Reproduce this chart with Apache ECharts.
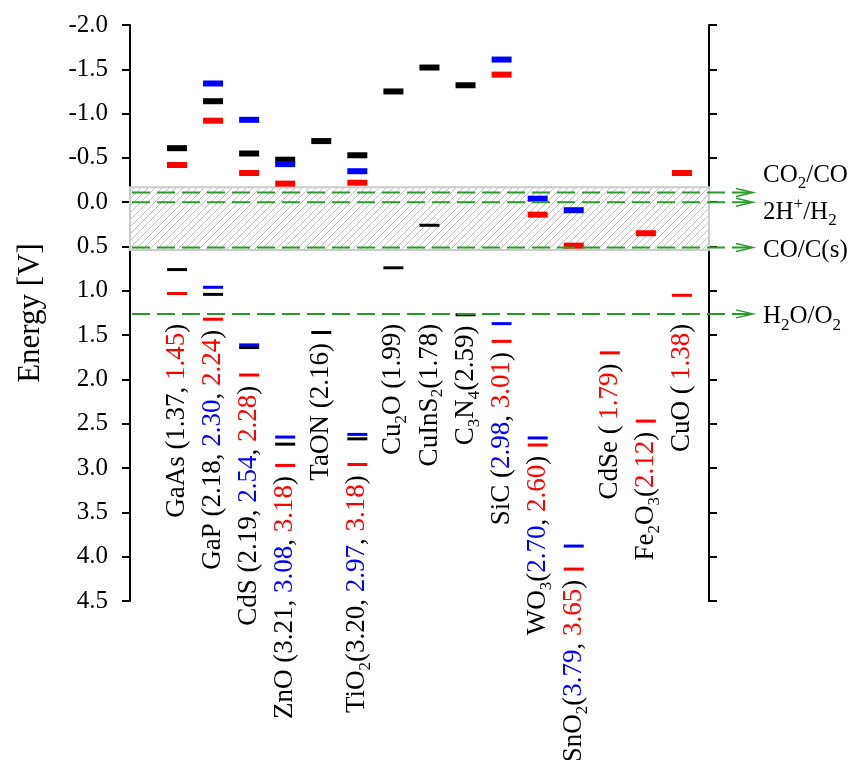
<!DOCTYPE html>
<html><head><meta charset="utf-8">
<script src="https://cdn.jsdelivr.net/npm/echarts@6/dist/echarts.min.js"></script>
<style>html,body{margin:0;padding:0;background:#fff}#c{width:852px;height:760px}</style>
</head><body><div id="c"></div>
<script>
// ---- data ----
const materials = ['GaAs','GaP','CdS','ZnO','TaON','TiO2','Cu2O','CuInS2','C3N4','SiC','WO3','SnO2','CdSe','Fe2O3','CuO'];
const materialLabels = [
  'GaAs (1.37, {r|1.45})',
  'GaP (2.18, {b|2.30}, {r|2.24})',
  'CdS (2.19, {b|2.54}, {r|2.28})',
  'ZnO (3.21, {b|3.08}, {r|3.18})',
  'TaON (2.16)',
  'TiO{s|2}(3.20, {b|2.97}, {r|3.18})',
  'Cu{s|2}O (1.99)',
  'CuInS{s|2}(1.78)',
  'C{s|3}N{s|4}(2.59)',
  'SiC ({b|2.98}, {r|3.01})',
  'WO{s|3}({b|2.70}, {r|2.60})',
  'SnO{s|2}({b|3.79}, {r|3.65})',
  'CdSe (\u2009{r|1.79})',
  'Fe{s|2}O{s|3}({r|2.12})',
  'CuO (\u2009{r|1.38})'
];
const blackCB = [-0.61,-1.14,-0.55,-0.48,-0.69,-0.53,-1.25,-1.52,-1.32,null,null,null,null,null,null];
const blackVB = [0.76, 1.04, 1.64, 2.73, 1.47, 2.67, 0.74, 0.26, 1.27,null,null,null,null,null,null];
const blueCB  = [null,-1.34,-0.93,-0.43,null,-0.35,null,null,null,-1.61,-0.04,0.09,null,null,null];
const blueVB  = [null, 0.96, 1.61, 2.65,null, 2.62,null,null,null, 1.37, 2.66,3.88,null,null,null];
const redCB   = [-0.42,-0.92,-0.33,-0.21,null,-0.22,null,null,null,-1.44,0.14,0.49,null,0.35,-0.33];
const redVB   = [1.03, 1.32, 1.95, 2.97,null, 2.96,null,null,null, 1.57, 2.74,4.14,1.70,2.47,1.05];
const refValues = [-0.11, 0.0, 0.51, 1.26];
const refLabels = ['CO{s|2}/CO', '2H{p|+}/H{s|2}', 'CO/C(s)', 'H{s|2}O/O{s|2}'];
const bandRange = [-0.17, 0.54];
const yMin = -2.0, yMax = 4.5, yStep = 0.5;

// ---- layout / style ----
const FONT = "'Liberation Serif','Times New Roman',serif";
const GREEN = '#2b9a2b';
const LABEL_SIZE = 27;
const xMin = -0.303, xMax = 15.75;
const refLabelDy = [-17, 10, 3, 3];
const richStyles = {
  r: {fill:'#ff0000', fontSize:LABEL_SIZE, fontFamily:FONT},
  b: {fill:'#0000ff', fontSize:LABEL_SIZE, fontFamily:FONT},
  s: {fill:'#000', fontSize:17, fontFamily:FONT, padding:[17,0,0,0]},
  p: {fill:'#000', fontSize:17, fontFamily:FONT, padding:[0,0,16,0]}
};
function pts(arr){ return arr.map((v,i)=> v==null?null:[i+1, v]).filter(Boolean); }
function labelAnchor(i){
  const vbs = [blackVB[i], blueVB[i], redVB[i]].filter(v=>v!=null);
  return Math.max(Math.max.apply(null, vbs) + 0.12, 1.37);
}
// hatch pattern
const tile = document.createElement('canvas');
tile.width = 7; tile.height = 7;
(function(){
  const c = tile.getContext('2d');
  c.strokeStyle = '#bdbdbd'; c.lineWidth = 1;
  c.beginPath();
  c.moveTo(-1,8); c.lineTo(8,-1);
  c.moveTo(-1,1); c.lineTo(1,-1);
  c.moveTo(6,8); c.lineTo(8,6);
  c.stroke();
})();

const chart = echarts.init(document.getElementById('c'), null, {renderer:'canvas'});
function barSeries(arr, color, h){
  return {type:'scatter', symbol:'rect', symbolSize:[20,h], data:pts(arr), silent:true,
    itemStyle:{color:color, opacity:1}, z:3, emphasis:{disabled:true}};
}
const axisCommon = {
  type:'value', inverse:true, min:yMin, max:yMax, interval:yStep,
  axisLine:{show:true, onZero:false, lineStyle:{color:'#000', width:2}},
  axisTick:{show:true, inside:false, length:8, lineStyle:{color:'#000', width:2}},
  splitLine:{show:false}
};
chart.setOption({
  animation:false,
  backgroundColor:'#fff',
  grid:{left:130, right:143, top:25, bottom:159},
  xAxis:{type:'value', min:xMin, max:xMax, show:false},
  yAxis:[
    Object.assign({}, axisCommon, {position:'left',
      axisLabel:{formatter:v=>v.toFixed(1), fontFamily:FONT, fontSize:25, color:'#000', margin:22},
      name:'Energy [V]', nameLocation:'middle', nameRotate:90, nameGap:84,
      nameTextStyle:{fontFamily:FONT, fontSize:31, color:'#000'}}),
    Object.assign({}, axisCommon, {position:'right', axisLabel:{show:false}})
  ],
  series:[
    {type:'custom', silent:true, z:1, data:[bandRange],
      renderItem:(p,api)=>{
        const a = api.coord([xMin, api.value(0)]), b = api.coord([xMax, api.value(1)]);
        return {type:'rect', shape:{x:a[0], y:a[1], width:b[0]-a[0], height:b[1]-a[1]},
          style:{fill:{image:tile, repeat:'repeat'}, stroke:'#cccccc', lineWidth:2}};
      }},
    barSeries(blackCB,'#000',6), barSeries(blackVB,'#000',3),
    barSeries(blueCB,'#0000ff',6), barSeries(blueVB,'#0000ff',3),
    barSeries(redCB,'#ff0000',6), barSeries(redVB,'#ff0000',3),
    {type:'custom', silent:true, z:4, clip:false, data:refValues.map((v,i)=>[v,i]),
      renderItem:(p,api)=>{
        const i = api.value(1);
        const a = api.coord([xMin, api.value(0)]), b = api.coord([xMax, api.value(0)]);
        const y = a[1], tip = b[0] + 44;
        return {type:'group', children:[
          {type:'line', shape:{x1:a[0]+2, y1:y, x2:tip, y2:y}, style:{stroke:GREEN, lineWidth:2, lineDash:[18,7]}},
          {type:'polyline', shape:{points:[[tip-17,y-4],[tip,y],[tip-17,y+4]]}, style:{stroke:GREEN, lineWidth:1.5, fill:null}},
          {type:'text', x:tip+10, y:y+refLabelDy[i], style:{text:refLabels[i], rich:richStyles,
            fontFamily:FONT, fontSize:25, fill:'#000', align:'left', verticalAlign:'middle'}}
        ]};
      }},
    {type:'custom', silent:true, z:5, clip:false, data:materials.map((m,i)=>[i+1, labelAnchor(i), i]),
      renderItem:(p,api)=>{
        const pt = api.coord([api.value(0), api.value(1)]);
        return {type:'text', x:pt[0], y:pt[1], rotation:Math.PI/2,
          style:{text:materialLabels[api.value(2)], rich:richStyles, fontFamily:FONT, fontSize:LABEL_SIZE,
            fill:'#000', align:'right', verticalAlign:'middle'}};
      }}
  ]
});
</script></body></html>
